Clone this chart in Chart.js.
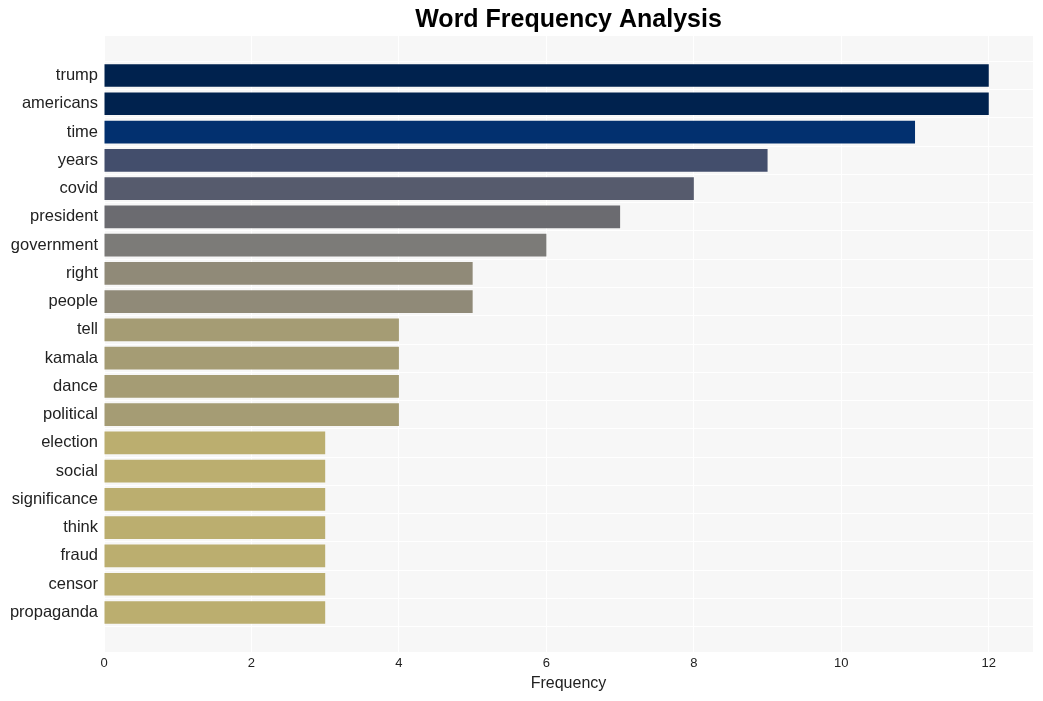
<!DOCTYPE html>
<html>
<head>
<meta charset="utf-8">
<script src="https://cdn.jsdelivr.net/npm/chart.js@4/dist/chart.umd.min.js"></script>
<style>
  html, body { margin: 0; padding: 0; background: #fff; }
  #wrap { width: 1043px; height: 701px; }
</style>
</head>
<body>
<div id="wrap"><canvas id="chart" width="1043" height="701"></canvas></div>
<script>
// words, top to bottom
const words = ['trump', 'americans', 'time', 'years', 'covid', 'president', 'government',
  'right', 'people', 'tell', 'kamala', 'dance', 'political', 'election', 'social',
  'significance', 'think', 'fraud', 'censor', 'propaganda'];
const counts = [12, 12, 11, 9, 8, 7, 6, 5, 5, 4, 4, 4, 4, 3, 3, 3, 3, 3, 3, 3];
const barColors = ['#00224e', '#00224e', '#02306f', '#434e6c', '#565b6d', '#6b6b70', '#7c7b78',
  '#908a78', '#908a78', '#a59c74', '#a59c74', '#a59c74', '#a59c74', '#bbae6f', '#bbae6f',
  '#bbae6f', '#bbae6f', '#bbae6f', '#bbae6f', '#bbae6f'];
const xTicks = [0, 2, 4, 6, 8, 10, 12];

// grey panel behind the bars
const panelBg = {
  id: 'panelBg',
  beforeDraw(chart) {
    const a = chart.chartArea, ctx = chart.ctx;
    ctx.save();
    ctx.fillStyle = '#f7f7f7';
    ctx.fillRect(a.left, a.top, a.right - a.left, a.bottom - a.top);
    ctx.restore();
  }
};

const font = 'Liberation Sans, Arial, Helvetica, sans-serif';

new Chart(document.getElementById('chart'), {
  type: 'bar',
  data: {
    datasets: [{
      data: counts.map((c, i) => ({ x: c, y: i })),
      backgroundColor: barColors,
      borderWidth: 0,
      barPercentage: 0.8,
      categoryPercentage: 1
    }]
  },
  plugins: [panelBg],
  options: {
    indexAxis: 'y',
    responsive: false,
    animation: false,
    devicePixelRatio: 1,
    layout: { padding: { left: 0, right: 10, top: 0, bottom: 0 } },
    plugins: {
      legend: { display: false },
      tooltip: { enabled: false },
      title: {
        display: true,
        fullSize: false,
        text: 'Word Frequency Analysis',
        color: '#000',
        font: { family: font, size: 25, weight: 'bold' },
        padding: { top: 5, bottom: 1 }
      }
    },
    scales: {
      x: {
        type: 'linear',
        min: 0,
        max: 12.6,
        afterBuildTicks: s => { s.ticks = xTicks.map(v => ({ value: v })); },
        afterFit: s => { s.height = 49; },
        grid: { color: '#ffffff', lineWidth: 1, drawTicks: false },
        border: { display: false },
        ticks: { color: '#222', font: { family: font, size: 13 }, padding: 4 },
        title: {
          display: true,
          text: 'Frequency',
          color: '#222',
          font: { family: font, size: 16 },
          padding: { top: 4, bottom: 8 }
        }
      },
      y: {
        type: 'linear',
        reverse: true,
        offset: false,
        min: -1.4,
        max: 20.4,
        afterBuildTicks: s => { s.ticks = words.map((w, i) => ({ value: i })); },
        afterFit: s => { s.width = 104; },
        grid: { color: '#ffffff', lineWidth: 1, drawTicks: false, offset: true },
        border: { display: false },
        ticks: {
          autoSkip: false,
          color: '#222',
          padding: 6,
          font: { family: font, size: 16.5 },
          callback: v => words[v] ?? ''
        }
      }
    }
  }
});
</script>
</body>
</html>
